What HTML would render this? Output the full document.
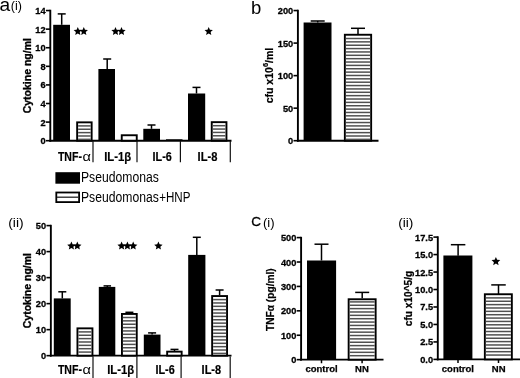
<!DOCTYPE html>
<html><head><meta charset="utf-8"><title>figure</title>
<style>
html,body{margin:0;padding:0;background:#fff;}
body{width:520px;height:378px;overflow:hidden;font-family:"Liberation Sans",sans-serif;}
svg{display:block;will-change:transform;}
svg text{font-family:"Liberation Sans",sans-serif;}
</style></head><body>
<svg width="520" height="378" viewBox="0 0 520 378">
<rect x="0" y="0" width="520" height="378" fill="#fff"/>
<text x="-0.6" y="11.2" font-size="19.2" text-anchor="start" fill="#000" >a</text>
<text x="10.8" y="10.2" font-size="12.5" text-anchor="start" fill="#000" textLength="11.2" lengthAdjust="spacingAndGlyphs" >(i)</text>
<line x1="50.3" y1="9.75" x2="50.3" y2="141.64999999999998" stroke="#000" stroke-width="1.9" stroke-linecap="butt"/>
<line x1="45.9" y1="140.7" x2="50.3" y2="140.7" stroke="#000" stroke-width="1.6" stroke-linecap="butt"/>
<text x="45.599999999999994" y="144.2" font-size="9.8" text-anchor="end" fill="#000" font-weight="bold" textLength="5.15" lengthAdjust="spacingAndGlyphs" stroke="#000" stroke-width="0.3">0</text>
<line x1="45.9" y1="122.10714285714285" x2="50.3" y2="122.10714285714285" stroke="#000" stroke-width="1.6" stroke-linecap="butt"/>
<text x="45.599999999999994" y="125.61" font-size="9.8" text-anchor="end" fill="#000" font-weight="bold" textLength="5.15" lengthAdjust="spacingAndGlyphs" stroke="#000" stroke-width="0.3">2</text>
<line x1="45.9" y1="103.5142857142857" x2="50.3" y2="103.5142857142857" stroke="#000" stroke-width="1.6" stroke-linecap="butt"/>
<text x="45.599999999999994" y="107.01" font-size="9.8" text-anchor="end" fill="#000" font-weight="bold" textLength="5.15" lengthAdjust="spacingAndGlyphs" stroke="#000" stroke-width="0.3">4</text>
<line x1="45.9" y1="84.92142857142858" x2="50.3" y2="84.92142857142858" stroke="#000" stroke-width="1.6" stroke-linecap="butt"/>
<text x="45.599999999999994" y="88.42" font-size="9.8" text-anchor="end" fill="#000" font-weight="bold" textLength="5.15" lengthAdjust="spacingAndGlyphs" stroke="#000" stroke-width="0.3">6</text>
<line x1="45.9" y1="66.32857142857144" x2="50.3" y2="66.32857142857144" stroke="#000" stroke-width="1.6" stroke-linecap="butt"/>
<text x="45.599999999999994" y="69.83" font-size="9.8" text-anchor="end" fill="#000" font-weight="bold" textLength="5.15" lengthAdjust="spacingAndGlyphs" stroke="#000" stroke-width="0.3">8</text>
<line x1="45.9" y1="47.735714285714295" x2="50.3" y2="47.735714285714295" stroke="#000" stroke-width="1.6" stroke-linecap="butt"/>
<text x="45.599999999999994" y="51.24" font-size="9.8" text-anchor="end" fill="#000" font-weight="bold" textLength="10.3" lengthAdjust="spacingAndGlyphs" stroke="#000" stroke-width="0.3">10</text>
<line x1="45.9" y1="29.142857142857167" x2="50.3" y2="29.142857142857167" stroke="#000" stroke-width="1.6" stroke-linecap="butt"/>
<text x="45.599999999999994" y="32.64" font-size="9.8" text-anchor="end" fill="#000" font-weight="bold" textLength="10.3" lengthAdjust="spacingAndGlyphs" stroke="#000" stroke-width="0.3">12</text>
<line x1="45.9" y1="10.550000000000011" x2="50.3" y2="10.550000000000011" stroke="#000" stroke-width="1.6" stroke-linecap="butt"/>
<text x="45.599999999999994" y="14.05" font-size="9.8" text-anchor="end" fill="#000" font-weight="bold" textLength="10.3" lengthAdjust="spacingAndGlyphs" stroke="#000" stroke-width="0.3">14</text>
<line x1="49.349999999999994" y1="140.7" x2="231.5" y2="140.7" stroke="#000" stroke-width="1.9" stroke-linecap="butt"/>
<text x="30.6" y="75.7" font-size="10.5" text-anchor="middle" fill="#000" font-weight="bold" transform="rotate(-90 30.6 75.7)" stroke="#000" stroke-width="0.3">Cytokine ng/ml</text>
<rect x="53.2" y="24.8" width="16.799999999999997" height="115.89999999999999" fill="#000"/>
<line x1="61.7" y1="13.9" x2="61.7" y2="24.8" stroke="#000" stroke-width="1.5" stroke-linecap="butt"/>
<line x1="57.7" y1="13.9" x2="65.7" y2="13.9" stroke="#000" stroke-width="1.5" stroke-linecap="butt"/>
<rect x="77.15" y="122.35000000000001" width="14.499999999999991" height="18.349999999999984" fill="#fff" stroke="#000" stroke-width="1.9"/>
<line x1="78.10000000000001" y1="125.9" x2="90.69999999999999" y2="125.9" stroke="#505050" stroke-width="1.5" stroke-linecap="butt"/>
<line x1="78.10000000000001" y1="129.262" x2="90.69999999999999" y2="129.262" stroke="#505050" stroke-width="1.5" stroke-linecap="butt"/>
<line x1="78.10000000000001" y1="132.624" x2="90.69999999999999" y2="132.624" stroke="#505050" stroke-width="1.5" stroke-linecap="butt"/>
<line x1="78.10000000000001" y1="135.986" x2="90.69999999999999" y2="135.986" stroke="#505050" stroke-width="1.5" stroke-linecap="butt"/>
<line x1="78.10000000000001" y1="139.34799999999998" x2="90.69999999999999" y2="139.34799999999998" stroke="#505050" stroke-width="1.5" stroke-linecap="butt"/>
<rect x="98.4" y="69" width="16.599999999999994" height="71.69999999999999" fill="#000"/>
<line x1="107.2" y1="59" x2="107.2" y2="69" stroke="#000" stroke-width="1.5" stroke-linecap="butt"/>
<line x1="103.2" y1="59" x2="111.2" y2="59" stroke="#000" stroke-width="1.5" stroke-linecap="butt"/>
<rect x="121.75" y="135.25" width="14.999999999999991" height="5.449999999999977" fill="#fff" stroke="#000" stroke-width="1.9"/>
<rect x="143.3" y="128.8" width="16.69999999999999" height="11.899999999999977" fill="#000"/>
<line x1="151.5" y1="125" x2="151.5" y2="128.8" stroke="#000" stroke-width="1.5" stroke-linecap="butt"/>
<line x1="147.5" y1="125" x2="155.5" y2="125" stroke="#000" stroke-width="1.5" stroke-linecap="butt"/>
<line x1="166" y1="139.6" x2="182.5" y2="139.6" stroke="#000" stroke-width="0.8" stroke-linecap="butt"/>
<rect x="188" y="93.5" width="17.19999999999999" height="47.19999999999999" fill="#000"/>
<line x1="196.5" y1="87.4" x2="196.5" y2="93.5" stroke="#000" stroke-width="1.5" stroke-linecap="butt"/>
<line x1="192.5" y1="87.4" x2="200.5" y2="87.4" stroke="#000" stroke-width="1.5" stroke-linecap="butt"/>
<rect x="211.75" y="122.15" width="14.699999999999994" height="18.549999999999986" fill="#fff" stroke="#000" stroke-width="1.9"/>
<line x1="212.70000000000002" y1="125.7" x2="225.5" y2="125.7" stroke="#505050" stroke-width="1.5" stroke-linecap="butt"/>
<line x1="212.70000000000002" y1="129.062" x2="225.5" y2="129.062" stroke="#505050" stroke-width="1.5" stroke-linecap="butt"/>
<line x1="212.70000000000002" y1="132.424" x2="225.5" y2="132.424" stroke="#505050" stroke-width="1.5" stroke-linecap="butt"/>
<line x1="212.70000000000002" y1="135.786" x2="225.5" y2="135.786" stroke="#505050" stroke-width="1.5" stroke-linecap="butt"/>
<line x1="212.70000000000002" y1="139.148" x2="225.5" y2="139.148" stroke="#505050" stroke-width="1.5" stroke-linecap="butt"/>
<polygon points="77.80,27.00 78.99,29.76 81.98,30.04 79.72,32.03 80.39,34.96 77.80,33.42 75.21,34.96 75.88,32.03 73.62,30.04 76.61,29.76" fill="#000"/>
<polygon points="83.80,27.00 84.99,29.76 87.98,30.04 85.72,32.03 86.39,34.96 83.80,33.42 81.21,34.96 81.88,32.03 79.62,30.04 82.61,29.76" fill="#000"/>
<polygon points="115.50,27.00 116.69,29.76 119.68,30.04 117.42,32.03 118.09,34.96 115.50,33.42 112.91,34.96 113.58,32.03 111.32,30.04 114.31,29.76" fill="#000"/>
<polygon points="121.50,27.00 122.69,29.76 125.68,30.04 123.42,32.03 124.09,34.96 121.50,33.42 118.91,34.96 119.58,32.03 117.32,30.04 120.31,29.76" fill="#000"/>
<polygon points="208.70,27.00 209.89,29.76 212.88,30.04 210.62,32.03 211.29,34.96 208.70,33.42 206.11,34.96 206.78,32.03 204.52,30.04 207.51,29.76" fill="#000"/>
<line x1="93" y1="141" x2="93" y2="162.3" stroke="#111" stroke-width="1.2" stroke-linecap="butt"/>
<line x1="137" y1="141" x2="137" y2="162.3" stroke="#111" stroke-width="1.2" stroke-linecap="butt"/>
<line x1="180.4" y1="141" x2="180.4" y2="162.3" stroke="#111" stroke-width="1.2" stroke-linecap="butt"/>
<line x1="230.3" y1="141" x2="230.3" y2="162.3" stroke="#111" stroke-width="1.2" stroke-linecap="butt"/>
<text x="57.9" y="160.7" font-size="13" text-anchor="start" fill="#000" font-weight="bold" textLength="24" lengthAdjust="spacingAndGlyphs" stroke="#000" stroke-width="0.2">TNF-</text>
<text x="82.6" y="160.8" font-size="13" text-anchor="start" fill="#000" textLength="8.4" lengthAdjust="spacingAndGlyphs" >&#945;</text>
<text x="104.2" y="160.7" font-size="13" text-anchor="start" fill="#000" font-weight="bold" textLength="27" lengthAdjust="spacingAndGlyphs" stroke="#000" stroke-width="0.2">IL-1&#946;</text>
<text x="152.6" y="160.7" font-size="13" text-anchor="start" fill="#000" font-weight="bold" textLength="19.3" lengthAdjust="spacingAndGlyphs" stroke="#000" stroke-width="0.2">IL-6</text>
<text x="197.6" y="160.7" font-size="13" text-anchor="start" fill="#000" font-weight="bold" textLength="19.8" lengthAdjust="spacingAndGlyphs" stroke="#000" stroke-width="0.2">IL-8</text>
<rect x="55.4" y="172.2" width="24.6" height="11.5" fill="#000"/>
<rect x="56.3" y="192.5" width="22.8" height="9.6" fill="#fff" stroke="#000" stroke-width="1.8"/>
<line x1="57" y1="197.2" x2="78.5" y2="197.2" stroke="#222" stroke-width="1.3" stroke-linecap="butt"/>
<text x="81.0" y="182.3" font-size="14" text-anchor="start" fill="#000" textLength="77.8" lengthAdjust="spacingAndGlyphs" >Pseudomonas</text>
<text x="81.0" y="201.8" font-size="14" text-anchor="start" fill="#000" textLength="77.8" lengthAdjust="spacingAndGlyphs" >Pseudomonas</text>
<text x="159.2" y="201.8" font-size="14" text-anchor="start" fill="#000" textLength="31.2" lengthAdjust="spacingAndGlyphs" >+HNP</text>
<text x="251" y="13.9" font-size="18.5" text-anchor="start" fill="#000" >b</text>
<line x1="297.9" y1="9.75" x2="297.9" y2="141.64999999999998" stroke="#000" stroke-width="1.9" stroke-linecap="butt"/>
<line x1="293.5" y1="140.7" x2="297.9" y2="140.7" stroke="#000" stroke-width="1.6" stroke-linecap="butt"/>
<text x="293.2" y="144.2" font-size="9.8" text-anchor="end" fill="#000" font-weight="bold" textLength="5.15" lengthAdjust="spacingAndGlyphs" stroke="#000" stroke-width="0.3">0</text>
<line x1="293.5" y1="108.1625" x2="297.9" y2="108.1625" stroke="#000" stroke-width="1.6" stroke-linecap="butt"/>
<text x="293.2" y="111.66" font-size="9.8" text-anchor="end" fill="#000" font-weight="bold" textLength="10.3" lengthAdjust="spacingAndGlyphs" stroke="#000" stroke-width="0.3">50</text>
<line x1="293.5" y1="75.625" x2="297.9" y2="75.625" stroke="#000" stroke-width="1.6" stroke-linecap="butt"/>
<text x="293.2" y="79.12" font-size="9.8" text-anchor="end" fill="#000" font-weight="bold" textLength="15.45" lengthAdjust="spacingAndGlyphs" stroke="#000" stroke-width="0.3">100</text>
<line x1="293.5" y1="43.08749999999999" x2="297.9" y2="43.08749999999999" stroke="#000" stroke-width="1.6" stroke-linecap="butt"/>
<text x="293.2" y="46.59" font-size="9.8" text-anchor="end" fill="#000" font-weight="bold" textLength="15.45" lengthAdjust="spacingAndGlyphs" stroke="#000" stroke-width="0.3">150</text>
<line x1="293.5" y1="10.550000000000011" x2="297.9" y2="10.550000000000011" stroke="#000" stroke-width="1.6" stroke-linecap="butt"/>
<text x="293.2" y="14.05" font-size="9.8" text-anchor="end" fill="#000" font-weight="bold" textLength="15.45" lengthAdjust="spacingAndGlyphs" stroke="#000" stroke-width="0.3">200</text>
<line x1="296.95" y1="140.7" x2="378.5" y2="140.7" stroke="#000" stroke-width="1.9" stroke-linecap="butt"/>
<text transform="translate(273.0 103.3) rotate(-90)" font-size="10.5" font-weight="bold" stroke="#000" stroke-width="0.2">cfu x10<tspan font-size="7.5" dy="-4.9">6</tspan><tspan dy="4.9">/ml</tspan></text>
<rect x="303.6" y="22.5" width="27.899999999999977" height="118.19999999999999" fill="#000"/>
<line x1="317.7" y1="21" x2="317.7" y2="22.5" stroke="#000" stroke-width="1.5" stroke-linecap="butt"/>
<line x1="310.7" y1="21" x2="324.7" y2="21" stroke="#000" stroke-width="1.5" stroke-linecap="butt"/>
<rect x="344.84999999999997" y="34.75" width="26.300000000000047" height="105.94999999999999" fill="#fff" stroke="#000" stroke-width="1.9"/>
<line x1="345.79999999999995" y1="38.5" x2="370.20000000000005" y2="38.5" stroke="#505050" stroke-width="1.5" stroke-linecap="butt"/>
<line x1="345.79999999999995" y1="41.862" x2="370.20000000000005" y2="41.862" stroke="#505050" stroke-width="1.5" stroke-linecap="butt"/>
<line x1="345.79999999999995" y1="45.224000000000004" x2="370.20000000000005" y2="45.224000000000004" stroke="#505050" stroke-width="1.5" stroke-linecap="butt"/>
<line x1="345.79999999999995" y1="48.586000000000006" x2="370.20000000000005" y2="48.586000000000006" stroke="#505050" stroke-width="1.5" stroke-linecap="butt"/>
<line x1="345.79999999999995" y1="51.94800000000001" x2="370.20000000000005" y2="51.94800000000001" stroke="#505050" stroke-width="1.5" stroke-linecap="butt"/>
<line x1="345.79999999999995" y1="55.31000000000001" x2="370.20000000000005" y2="55.31000000000001" stroke="#505050" stroke-width="1.5" stroke-linecap="butt"/>
<line x1="345.79999999999995" y1="58.67200000000001" x2="370.20000000000005" y2="58.67200000000001" stroke="#505050" stroke-width="1.5" stroke-linecap="butt"/>
<line x1="345.79999999999995" y1="62.03400000000001" x2="370.20000000000005" y2="62.03400000000001" stroke="#505050" stroke-width="1.5" stroke-linecap="butt"/>
<line x1="345.79999999999995" y1="65.39600000000002" x2="370.20000000000005" y2="65.39600000000002" stroke="#505050" stroke-width="1.5" stroke-linecap="butt"/>
<line x1="345.79999999999995" y1="68.75800000000001" x2="370.20000000000005" y2="68.75800000000001" stroke="#505050" stroke-width="1.5" stroke-linecap="butt"/>
<line x1="345.79999999999995" y1="72.12" x2="370.20000000000005" y2="72.12" stroke="#505050" stroke-width="1.5" stroke-linecap="butt"/>
<line x1="345.79999999999995" y1="75.482" x2="370.20000000000005" y2="75.482" stroke="#505050" stroke-width="1.5" stroke-linecap="butt"/>
<line x1="345.79999999999995" y1="78.844" x2="370.20000000000005" y2="78.844" stroke="#505050" stroke-width="1.5" stroke-linecap="butt"/>
<line x1="345.79999999999995" y1="82.20599999999999" x2="370.20000000000005" y2="82.20599999999999" stroke="#505050" stroke-width="1.5" stroke-linecap="butt"/>
<line x1="345.79999999999995" y1="85.56799999999998" x2="370.20000000000005" y2="85.56799999999998" stroke="#505050" stroke-width="1.5" stroke-linecap="butt"/>
<line x1="345.79999999999995" y1="88.92999999999998" x2="370.20000000000005" y2="88.92999999999998" stroke="#505050" stroke-width="1.5" stroke-linecap="butt"/>
<line x1="345.79999999999995" y1="92.29199999999997" x2="370.20000000000005" y2="92.29199999999997" stroke="#505050" stroke-width="1.5" stroke-linecap="butt"/>
<line x1="345.79999999999995" y1="95.65399999999997" x2="370.20000000000005" y2="95.65399999999997" stroke="#505050" stroke-width="1.5" stroke-linecap="butt"/>
<line x1="345.79999999999995" y1="99.01599999999996" x2="370.20000000000005" y2="99.01599999999996" stroke="#505050" stroke-width="1.5" stroke-linecap="butt"/>
<line x1="345.79999999999995" y1="102.37799999999996" x2="370.20000000000005" y2="102.37799999999996" stroke="#505050" stroke-width="1.5" stroke-linecap="butt"/>
<line x1="345.79999999999995" y1="105.73999999999995" x2="370.20000000000005" y2="105.73999999999995" stroke="#505050" stroke-width="1.5" stroke-linecap="butt"/>
<line x1="345.79999999999995" y1="109.10199999999995" x2="370.20000000000005" y2="109.10199999999995" stroke="#505050" stroke-width="1.5" stroke-linecap="butt"/>
<line x1="345.79999999999995" y1="112.46399999999994" x2="370.20000000000005" y2="112.46399999999994" stroke="#505050" stroke-width="1.5" stroke-linecap="butt"/>
<line x1="345.79999999999995" y1="115.82599999999994" x2="370.20000000000005" y2="115.82599999999994" stroke="#505050" stroke-width="1.5" stroke-linecap="butt"/>
<line x1="345.79999999999995" y1="119.18799999999993" x2="370.20000000000005" y2="119.18799999999993" stroke="#505050" stroke-width="1.5" stroke-linecap="butt"/>
<line x1="345.79999999999995" y1="122.54999999999993" x2="370.20000000000005" y2="122.54999999999993" stroke="#505050" stroke-width="1.5" stroke-linecap="butt"/>
<line x1="345.79999999999995" y1="125.91199999999992" x2="370.20000000000005" y2="125.91199999999992" stroke="#505050" stroke-width="1.5" stroke-linecap="butt"/>
<line x1="345.79999999999995" y1="129.27399999999992" x2="370.20000000000005" y2="129.27399999999992" stroke="#505050" stroke-width="1.5" stroke-linecap="butt"/>
<line x1="345.79999999999995" y1="132.6359999999999" x2="370.20000000000005" y2="132.6359999999999" stroke="#505050" stroke-width="1.5" stroke-linecap="butt"/>
<line x1="345.79999999999995" y1="135.9979999999999" x2="370.20000000000005" y2="135.9979999999999" stroke="#505050" stroke-width="1.5" stroke-linecap="butt"/>
<line x1="345.79999999999995" y1="139.3599999999999" x2="370.20000000000005" y2="139.3599999999999" stroke="#505050" stroke-width="1.5" stroke-linecap="butt"/>
<line x1="358.0" y1="28.3" x2="358.0" y2="34" stroke="#000" stroke-width="1.5" stroke-linecap="butt"/>
<line x1="351.0" y1="28.3" x2="365.0" y2="28.3" stroke="#000" stroke-width="1.5" stroke-linecap="butt"/>
<text x="8.2" y="226.5" font-size="13.3" text-anchor="start" fill="#000" textLength="15.4" lengthAdjust="spacingAndGlyphs" >(ii)</text>
<line x1="50.85" y1="224.79999999999998" x2="50.85" y2="356.59999999999997" stroke="#000" stroke-width="1.9" stroke-linecap="butt"/>
<line x1="46.45" y1="355.65" x2="50.85" y2="355.65" stroke="#000" stroke-width="1.6" stroke-linecap="butt"/>
<text x="46.15" y="359.15" font-size="9.8" text-anchor="end" fill="#000" font-weight="bold" textLength="5.15" lengthAdjust="spacingAndGlyphs" stroke="#000" stroke-width="0.3">0</text>
<line x1="46.45" y1="329.64" x2="50.85" y2="329.64" stroke="#000" stroke-width="1.6" stroke-linecap="butt"/>
<text x="46.15" y="333.14" font-size="9.8" text-anchor="end" fill="#000" font-weight="bold" textLength="10.3" lengthAdjust="spacingAndGlyphs" stroke="#000" stroke-width="0.3">10</text>
<line x1="46.45" y1="303.63" x2="50.85" y2="303.63" stroke="#000" stroke-width="1.6" stroke-linecap="butt"/>
<text x="46.15" y="307.13" font-size="9.8" text-anchor="end" fill="#000" font-weight="bold" textLength="10.3" lengthAdjust="spacingAndGlyphs" stroke="#000" stroke-width="0.3">20</text>
<line x1="46.45" y1="277.62" x2="50.85" y2="277.62" stroke="#000" stroke-width="1.6" stroke-linecap="butt"/>
<text x="46.15" y="281.12" font-size="9.8" text-anchor="end" fill="#000" font-weight="bold" textLength="10.3" lengthAdjust="spacingAndGlyphs" stroke="#000" stroke-width="0.3">30</text>
<line x1="46.45" y1="251.61" x2="50.85" y2="251.61" stroke="#000" stroke-width="1.6" stroke-linecap="butt"/>
<text x="46.15" y="255.11" font-size="9.8" text-anchor="end" fill="#000" font-weight="bold" textLength="10.3" lengthAdjust="spacingAndGlyphs" stroke="#000" stroke-width="0.3">40</text>
<line x1="46.45" y1="225.6" x2="50.85" y2="225.6" stroke="#000" stroke-width="1.6" stroke-linecap="butt"/>
<text x="46.15" y="229.1" font-size="9.8" text-anchor="end" fill="#000" font-weight="bold" textLength="10.3" lengthAdjust="spacingAndGlyphs" stroke="#000" stroke-width="0.3">50</text>
<line x1="49.9" y1="355.65" x2="231.5" y2="355.65" stroke="#000" stroke-width="1.9" stroke-linecap="butt"/>
<text x="30.8" y="290.6" font-size="10.5" text-anchor="middle" fill="#000" font-weight="bold" transform="rotate(-90 30.8 290.6)" stroke="#000" stroke-width="0.3">Cytokine ng/ml</text>
<rect x="53.8" y="298.4" width="16.900000000000006" height="57.25" fill="#000"/>
<line x1="62.3" y1="291.8" x2="62.3" y2="298.4" stroke="#000" stroke-width="1.5" stroke-linecap="butt"/>
<line x1="58.3" y1="291.8" x2="66.3" y2="291.8" stroke="#000" stroke-width="1.5" stroke-linecap="butt"/>
<rect x="77.45" y="328.34999999999997" width="15.000000000000005" height="27.3" fill="#fff" stroke="#000" stroke-width="1.9"/>
<line x1="78.4" y1="331.9" x2="91.5" y2="331.9" stroke="#505050" stroke-width="1.5" stroke-linecap="butt"/>
<line x1="78.4" y1="335.262" x2="91.5" y2="335.262" stroke="#505050" stroke-width="1.5" stroke-linecap="butt"/>
<line x1="78.4" y1="338.624" x2="91.5" y2="338.624" stroke="#505050" stroke-width="1.5" stroke-linecap="butt"/>
<line x1="78.4" y1="341.98600000000005" x2="91.5" y2="341.98600000000005" stroke="#505050" stroke-width="1.5" stroke-linecap="butt"/>
<line x1="78.4" y1="345.34800000000007" x2="91.5" y2="345.34800000000007" stroke="#505050" stroke-width="1.5" stroke-linecap="butt"/>
<line x1="78.4" y1="348.7100000000001" x2="91.5" y2="348.7100000000001" stroke="#505050" stroke-width="1.5" stroke-linecap="butt"/>
<line x1="78.4" y1="352.0720000000001" x2="91.5" y2="352.0720000000001" stroke="#505050" stroke-width="1.5" stroke-linecap="butt"/>
<rect x="98.8" y="286.9" width="16.5" height="68.75" fill="#000"/>
<line x1="107.3" y1="285.9" x2="107.3" y2="287" stroke="#000" stroke-width="1.5" stroke-linecap="butt"/>
<line x1="103.55" y1="285.9" x2="111.05" y2="285.9" stroke="#000" stroke-width="1.5" stroke-linecap="butt"/>
<rect x="121.95" y="313.95" width="14.799999999999988" height="41.699999999999974" fill="#fff" stroke="#000" stroke-width="1.9"/>
<line x1="122.9" y1="317.5" x2="135.79999999999998" y2="317.5" stroke="#505050" stroke-width="1.5" stroke-linecap="butt"/>
<line x1="122.9" y1="320.862" x2="135.79999999999998" y2="320.862" stroke="#505050" stroke-width="1.5" stroke-linecap="butt"/>
<line x1="122.9" y1="324.22400000000005" x2="135.79999999999998" y2="324.22400000000005" stroke="#505050" stroke-width="1.5" stroke-linecap="butt"/>
<line x1="122.9" y1="327.58600000000007" x2="135.79999999999998" y2="327.58600000000007" stroke="#505050" stroke-width="1.5" stroke-linecap="butt"/>
<line x1="122.9" y1="330.9480000000001" x2="135.79999999999998" y2="330.9480000000001" stroke="#505050" stroke-width="1.5" stroke-linecap="butt"/>
<line x1="122.9" y1="334.3100000000001" x2="135.79999999999998" y2="334.3100000000001" stroke="#505050" stroke-width="1.5" stroke-linecap="butt"/>
<line x1="122.9" y1="337.67200000000014" x2="135.79999999999998" y2="337.67200000000014" stroke="#505050" stroke-width="1.5" stroke-linecap="butt"/>
<line x1="122.9" y1="341.03400000000016" x2="135.79999999999998" y2="341.03400000000016" stroke="#505050" stroke-width="1.5" stroke-linecap="butt"/>
<line x1="122.9" y1="344.3960000000002" x2="135.79999999999998" y2="344.3960000000002" stroke="#505050" stroke-width="1.5" stroke-linecap="butt"/>
<line x1="122.9" y1="347.7580000000002" x2="135.79999999999998" y2="347.7580000000002" stroke="#505050" stroke-width="1.5" stroke-linecap="butt"/>
<line x1="122.9" y1="351.12000000000023" x2="135.79999999999998" y2="351.12000000000023" stroke="#505050" stroke-width="1.5" stroke-linecap="butt"/>
<line x1="129.4" y1="312.3" x2="129.4" y2="313" stroke="#000" stroke-width="1.5" stroke-linecap="butt"/>
<line x1="125.4" y1="312.3" x2="133.4" y2="312.3" stroke="#000" stroke-width="1.5" stroke-linecap="butt"/>
<rect x="143.8" y="334.6" width="16.69999999999999" height="21.049999999999955" fill="#000"/>
<line x1="152.1" y1="332.9" x2="152.1" y2="334.6" stroke="#000" stroke-width="1.5" stroke-linecap="butt"/>
<line x1="148.1" y1="332.9" x2="156.1" y2="332.9" stroke="#000" stroke-width="1.5" stroke-linecap="butt"/>
<rect x="167.14999999999998" y="351.65" width="14.500000000000005" height="3.9999999999999885" fill="#fff" stroke="#000" stroke-width="1.9"/>
<line x1="174.5" y1="349.4" x2="174.5" y2="351" stroke="#000" stroke-width="1.5" stroke-linecap="butt"/>
<line x1="170.5" y1="349.4" x2="178.5" y2="349.4" stroke="#000" stroke-width="1.5" stroke-linecap="butt"/>
<rect x="188.2" y="254.9" width="17.200000000000017" height="100.74999999999997" fill="#000"/>
<line x1="196.8" y1="237.3" x2="196.8" y2="255" stroke="#000" stroke-width="1.5" stroke-linecap="butt"/>
<line x1="192.8" y1="237.3" x2="200.8" y2="237.3" stroke="#000" stroke-width="1.5" stroke-linecap="butt"/>
<rect x="212.14999999999998" y="296.05" width="14.900000000000011" height="59.59999999999995" fill="#fff" stroke="#000" stroke-width="1.9"/>
<line x1="213.1" y1="299.6" x2="226.1" y2="299.6" stroke="#505050" stroke-width="1.5" stroke-linecap="butt"/>
<line x1="213.1" y1="302.96200000000005" x2="226.1" y2="302.96200000000005" stroke="#505050" stroke-width="1.5" stroke-linecap="butt"/>
<line x1="213.1" y1="306.32400000000007" x2="226.1" y2="306.32400000000007" stroke="#505050" stroke-width="1.5" stroke-linecap="butt"/>
<line x1="213.1" y1="309.6860000000001" x2="226.1" y2="309.6860000000001" stroke="#505050" stroke-width="1.5" stroke-linecap="butt"/>
<line x1="213.1" y1="313.0480000000001" x2="226.1" y2="313.0480000000001" stroke="#505050" stroke-width="1.5" stroke-linecap="butt"/>
<line x1="213.1" y1="316.41000000000014" x2="226.1" y2="316.41000000000014" stroke="#505050" stroke-width="1.5" stroke-linecap="butt"/>
<line x1="213.1" y1="319.77200000000016" x2="226.1" y2="319.77200000000016" stroke="#505050" stroke-width="1.5" stroke-linecap="butt"/>
<line x1="213.1" y1="323.1340000000002" x2="226.1" y2="323.1340000000002" stroke="#505050" stroke-width="1.5" stroke-linecap="butt"/>
<line x1="213.1" y1="326.4960000000002" x2="226.1" y2="326.4960000000002" stroke="#505050" stroke-width="1.5" stroke-linecap="butt"/>
<line x1="213.1" y1="329.85800000000023" x2="226.1" y2="329.85800000000023" stroke="#505050" stroke-width="1.5" stroke-linecap="butt"/>
<line x1="213.1" y1="333.22000000000025" x2="226.1" y2="333.22000000000025" stroke="#505050" stroke-width="1.5" stroke-linecap="butt"/>
<line x1="213.1" y1="336.5820000000003" x2="226.1" y2="336.5820000000003" stroke="#505050" stroke-width="1.5" stroke-linecap="butt"/>
<line x1="213.1" y1="339.9440000000003" x2="226.1" y2="339.9440000000003" stroke="#505050" stroke-width="1.5" stroke-linecap="butt"/>
<line x1="213.1" y1="343.3060000000003" x2="226.1" y2="343.3060000000003" stroke="#505050" stroke-width="1.5" stroke-linecap="butt"/>
<line x1="213.1" y1="346.66800000000035" x2="226.1" y2="346.66800000000035" stroke="#505050" stroke-width="1.5" stroke-linecap="butt"/>
<line x1="213.1" y1="350.03000000000037" x2="226.1" y2="350.03000000000037" stroke="#505050" stroke-width="1.5" stroke-linecap="butt"/>
<line x1="213.1" y1="353.3920000000004" x2="226.1" y2="353.3920000000004" stroke="#505050" stroke-width="1.5" stroke-linecap="butt"/>
<line x1="219.6" y1="290" x2="219.6" y2="295.1" stroke="#000" stroke-width="1.5" stroke-linecap="butt"/>
<line x1="215.6" y1="290" x2="223.6" y2="290" stroke="#000" stroke-width="1.5" stroke-linecap="butt"/>
<polygon points="71.40,241.60 72.59,244.36 75.58,244.64 73.32,246.63 73.99,249.56 71.40,248.02 68.81,249.56 69.48,246.63 67.22,244.64 70.21,244.36" fill="#000"/>
<polygon points="77.30,241.60 78.49,244.36 81.48,244.64 79.22,246.63 79.89,249.56 77.30,248.02 74.71,249.56 75.38,246.63 73.12,244.64 76.11,244.36" fill="#000"/>
<polygon points="121.60,241.60 122.79,244.36 125.78,244.64 123.52,246.63 124.19,249.56 121.60,248.02 119.01,249.56 119.68,246.63 117.42,244.64 120.41,244.36" fill="#000"/>
<polygon points="127.40,241.60 128.59,244.36 131.58,244.64 129.32,246.63 129.99,249.56 127.40,248.02 124.81,249.56 125.48,246.63 123.22,244.64 126.21,244.36" fill="#000"/>
<polygon points="133.20,241.60 134.39,244.36 137.38,244.64 135.12,246.63 135.79,249.56 133.20,248.02 130.61,249.56 131.28,246.63 129.02,244.64 132.01,244.36" fill="#000"/>
<polygon points="158.40,241.60 159.59,244.36 162.58,244.64 160.32,246.63 160.99,249.56 158.40,248.02 155.81,249.56 156.48,246.63 154.22,244.64 157.21,244.36" fill="#000"/>
<line x1="93" y1="356.5" x2="93" y2="378" stroke="#111" stroke-width="1.2" stroke-linecap="butt"/>
<line x1="136.9" y1="356.5" x2="136.9" y2="378" stroke="#111" stroke-width="1.2" stroke-linecap="butt"/>
<line x1="181.1" y1="356.5" x2="181.1" y2="378" stroke="#111" stroke-width="1.2" stroke-linecap="butt"/>
<line x1="230.2" y1="356.5" x2="230.2" y2="378" stroke="#111" stroke-width="1.2" stroke-linecap="butt"/>
<text x="57.9" y="373.6" font-size="13" text-anchor="start" fill="#000" font-weight="bold" textLength="24" lengthAdjust="spacingAndGlyphs" stroke="#000" stroke-width="0.2">TNF-</text>
<text x="82.6" y="373.7" font-size="13" text-anchor="start" fill="#000" textLength="8.4" lengthAdjust="spacingAndGlyphs" >&#945;</text>
<text x="107.2" y="373.6" font-size="13" text-anchor="start" fill="#000" font-weight="bold" textLength="27" lengthAdjust="spacingAndGlyphs" stroke="#000" stroke-width="0.2">IL-1&#946;</text>
<text x="155.4" y="373.6" font-size="13" text-anchor="start" fill="#000" font-weight="bold" textLength="19.3" lengthAdjust="spacingAndGlyphs" stroke="#000" stroke-width="0.2">IL-6</text>
<text x="201.6" y="373.6" font-size="13" text-anchor="start" fill="#000" font-weight="bold" textLength="19.5" lengthAdjust="spacingAndGlyphs" stroke="#000" stroke-width="0.2">IL-8</text>
<text x="251.2" y="225.7" font-size="13.5" text-anchor="start" fill="#000" stroke="#000" stroke-width="0.3">C</text>
<text x="262.9" y="226.5" font-size="13.3" text-anchor="start" fill="#000" textLength="11.6" lengthAdjust="spacingAndGlyphs" >(i)</text>
<line x1="301.1" y1="236.79999999999998" x2="301.1" y2="360.59999999999997" stroke="#000" stroke-width="1.9" stroke-linecap="butt"/>
<line x1="296.70000000000005" y1="359.65" x2="301.1" y2="359.65" stroke="#000" stroke-width="1.6" stroke-linecap="butt"/>
<text x="296.40000000000003" y="363.15" font-size="9.8" text-anchor="end" fill="#000" font-weight="bold" textLength="5.15" lengthAdjust="spacingAndGlyphs" stroke="#000" stroke-width="0.3">0</text>
<line x1="296.70000000000005" y1="335.24" x2="301.1" y2="335.24" stroke="#000" stroke-width="1.6" stroke-linecap="butt"/>
<text x="296.40000000000003" y="338.74" font-size="9.8" text-anchor="end" fill="#000" font-weight="bold" textLength="15.45" lengthAdjust="spacingAndGlyphs" stroke="#000" stroke-width="0.3">100</text>
<line x1="296.70000000000005" y1="310.83" x2="301.1" y2="310.83" stroke="#000" stroke-width="1.6" stroke-linecap="butt"/>
<text x="296.40000000000003" y="314.33" font-size="9.8" text-anchor="end" fill="#000" font-weight="bold" textLength="15.45" lengthAdjust="spacingAndGlyphs" stroke="#000" stroke-width="0.3">200</text>
<line x1="296.70000000000005" y1="286.41999999999996" x2="301.1" y2="286.41999999999996" stroke="#000" stroke-width="1.6" stroke-linecap="butt"/>
<text x="296.40000000000003" y="289.92" font-size="9.8" text-anchor="end" fill="#000" font-weight="bold" textLength="15.45" lengthAdjust="spacingAndGlyphs" stroke="#000" stroke-width="0.3">300</text>
<line x1="296.70000000000005" y1="262.01" x2="301.1" y2="262.01" stroke="#000" stroke-width="1.6" stroke-linecap="butt"/>
<text x="296.40000000000003" y="265.51" font-size="9.8" text-anchor="end" fill="#000" font-weight="bold" textLength="15.45" lengthAdjust="spacingAndGlyphs" stroke="#000" stroke-width="0.3">400</text>
<line x1="296.70000000000005" y1="237.6" x2="301.1" y2="237.6" stroke="#000" stroke-width="1.6" stroke-linecap="butt"/>
<text x="296.40000000000003" y="241.1" font-size="9.8" text-anchor="end" fill="#000" font-weight="bold" textLength="15.45" lengthAdjust="spacingAndGlyphs" stroke="#000" stroke-width="0.3">500</text>
<line x1="300.15000000000003" y1="359.65" x2="383.5" y2="359.65" stroke="#000" stroke-width="1.9" stroke-linecap="butt"/>
<text x="274.0" y="299.6" font-size="10" text-anchor="middle" fill="#000" font-weight="bold" textLength="62.7" lengthAdjust="spacingAndGlyphs" transform="rotate(-90 274.0 299.6)" stroke="#000" stroke-width="0.2">TNF&#945; (pg/ml)</text>
<rect x="307" y="260.5" width="29.100000000000023" height="99.14999999999998" fill="#000"/>
<line x1="321.5" y1="244.2" x2="321.5" y2="260.5" stroke="#000" stroke-width="1.5" stroke-linecap="butt"/>
<line x1="314.5" y1="244.2" x2="328.5" y2="244.2" stroke="#000" stroke-width="1.5" stroke-linecap="butt"/>
<rect x="348.65" y="299.25" width="27.000000000000036" height="60.39999999999996" fill="#fff" stroke="#000" stroke-width="1.9"/>
<line x1="349.59999999999997" y1="301.90000000000003" x2="374.70000000000005" y2="301.90000000000003" stroke="#505050" stroke-width="1.5" stroke-linecap="butt"/>
<line x1="349.59999999999997" y1="305.26200000000006" x2="374.70000000000005" y2="305.26200000000006" stroke="#505050" stroke-width="1.5" stroke-linecap="butt"/>
<line x1="349.59999999999997" y1="308.6240000000001" x2="374.70000000000005" y2="308.6240000000001" stroke="#505050" stroke-width="1.5" stroke-linecap="butt"/>
<line x1="349.59999999999997" y1="311.9860000000001" x2="374.70000000000005" y2="311.9860000000001" stroke="#505050" stroke-width="1.5" stroke-linecap="butt"/>
<line x1="349.59999999999997" y1="315.3480000000001" x2="374.70000000000005" y2="315.3480000000001" stroke="#505050" stroke-width="1.5" stroke-linecap="butt"/>
<line x1="349.59999999999997" y1="318.71000000000015" x2="374.70000000000005" y2="318.71000000000015" stroke="#505050" stroke-width="1.5" stroke-linecap="butt"/>
<line x1="349.59999999999997" y1="322.0720000000002" x2="374.70000000000005" y2="322.0720000000002" stroke="#505050" stroke-width="1.5" stroke-linecap="butt"/>
<line x1="349.59999999999997" y1="325.4340000000002" x2="374.70000000000005" y2="325.4340000000002" stroke="#505050" stroke-width="1.5" stroke-linecap="butt"/>
<line x1="349.59999999999997" y1="328.7960000000002" x2="374.70000000000005" y2="328.7960000000002" stroke="#505050" stroke-width="1.5" stroke-linecap="butt"/>
<line x1="349.59999999999997" y1="332.15800000000024" x2="374.70000000000005" y2="332.15800000000024" stroke="#505050" stroke-width="1.5" stroke-linecap="butt"/>
<line x1="349.59999999999997" y1="335.52000000000027" x2="374.70000000000005" y2="335.52000000000027" stroke="#505050" stroke-width="1.5" stroke-linecap="butt"/>
<line x1="349.59999999999997" y1="338.8820000000003" x2="374.70000000000005" y2="338.8820000000003" stroke="#505050" stroke-width="1.5" stroke-linecap="butt"/>
<line x1="349.59999999999997" y1="342.2440000000003" x2="374.70000000000005" y2="342.2440000000003" stroke="#505050" stroke-width="1.5" stroke-linecap="butt"/>
<line x1="349.59999999999997" y1="345.60600000000034" x2="374.70000000000005" y2="345.60600000000034" stroke="#505050" stroke-width="1.5" stroke-linecap="butt"/>
<line x1="349.59999999999997" y1="348.96800000000036" x2="374.70000000000005" y2="348.96800000000036" stroke="#505050" stroke-width="1.5" stroke-linecap="butt"/>
<line x1="349.59999999999997" y1="352.3300000000004" x2="374.70000000000005" y2="352.3300000000004" stroke="#505050" stroke-width="1.5" stroke-linecap="butt"/>
<line x1="349.59999999999997" y1="355.6920000000004" x2="374.70000000000005" y2="355.6920000000004" stroke="#505050" stroke-width="1.5" stroke-linecap="butt"/>
<line x1="362.2" y1="292.4" x2="362.2" y2="298.3" stroke="#000" stroke-width="1.5" stroke-linecap="butt"/>
<line x1="355.2" y1="292.4" x2="369.2" y2="292.4" stroke="#000" stroke-width="1.5" stroke-linecap="butt"/>
<line x1="321.5" y1="359.65" x2="321.5" y2="363.25" stroke="#000" stroke-width="1.5" stroke-linecap="butt"/>
<line x1="362.1" y1="359.65" x2="362.1" y2="363.25" stroke="#000" stroke-width="1.5" stroke-linecap="butt"/>
<text x="321.6" y="371.6" font-size="9.5" text-anchor="middle" fill="#000" font-weight="bold" stroke="#000" stroke-width="0.25">control</text>
<text x="361.9" y="371.6" font-size="9.5" text-anchor="middle" fill="#000" font-weight="bold" stroke="#000" stroke-width="0.25">NN</text>
<text x="398.2" y="226.5" font-size="13.3" text-anchor="start" fill="#000" textLength="15.2" lengthAdjust="spacingAndGlyphs" >(ii)</text>
<line x1="437.8" y1="236.29999999999998" x2="437.8" y2="360.34999999999997" stroke="#000" stroke-width="1.9" stroke-linecap="butt"/>
<line x1="433.40000000000003" y1="359.4" x2="437.8" y2="359.4" stroke="#000" stroke-width="1.6" stroke-linecap="butt"/>
<text x="433.1" y="362.9" font-size="9.8" text-anchor="end" fill="#000" font-weight="bold" textLength="12.87" lengthAdjust="spacingAndGlyphs" stroke="#000" stroke-width="0.3">0.0</text>
<line x1="433.40000000000003" y1="341.9285714285714" x2="437.8" y2="341.9285714285714" stroke="#000" stroke-width="1.6" stroke-linecap="butt"/>
<text x="433.1" y="345.43" font-size="9.8" text-anchor="end" fill="#000" font-weight="bold" textLength="12.87" lengthAdjust="spacingAndGlyphs" stroke="#000" stroke-width="0.3">2.5</text>
<line x1="433.40000000000003" y1="324.45714285714286" x2="437.8" y2="324.45714285714286" stroke="#000" stroke-width="1.6" stroke-linecap="butt"/>
<text x="433.1" y="327.96" font-size="9.8" text-anchor="end" fill="#000" font-weight="bold" textLength="12.87" lengthAdjust="spacingAndGlyphs" stroke="#000" stroke-width="0.3">5.0</text>
<line x1="433.40000000000003" y1="306.98571428571427" x2="437.8" y2="306.98571428571427" stroke="#000" stroke-width="1.6" stroke-linecap="butt"/>
<text x="433.1" y="310.49" font-size="9.8" text-anchor="end" fill="#000" font-weight="bold" textLength="12.87" lengthAdjust="spacingAndGlyphs" stroke="#000" stroke-width="0.3">7.5</text>
<line x1="433.40000000000003" y1="289.51428571428573" x2="437.8" y2="289.51428571428573" stroke="#000" stroke-width="1.6" stroke-linecap="butt"/>
<text x="433.1" y="293.01" font-size="9.8" text-anchor="end" fill="#000" font-weight="bold" textLength="18.02" lengthAdjust="spacingAndGlyphs" stroke="#000" stroke-width="0.3">10.0</text>
<line x1="433.40000000000003" y1="272.04285714285714" x2="437.8" y2="272.04285714285714" stroke="#000" stroke-width="1.6" stroke-linecap="butt"/>
<text x="433.1" y="275.54" font-size="9.8" text-anchor="end" fill="#000" font-weight="bold" textLength="18.02" lengthAdjust="spacingAndGlyphs" stroke="#000" stroke-width="0.3">12.5</text>
<line x1="433.40000000000003" y1="254.57142857142856" x2="437.8" y2="254.57142857142856" stroke="#000" stroke-width="1.6" stroke-linecap="butt"/>
<text x="433.1" y="258.07" font-size="9.8" text-anchor="end" fill="#000" font-weight="bold" textLength="18.02" lengthAdjust="spacingAndGlyphs" stroke="#000" stroke-width="0.3">15.0</text>
<line x1="433.40000000000003" y1="237.1" x2="437.8" y2="237.1" stroke="#000" stroke-width="1.6" stroke-linecap="butt"/>
<text x="433.1" y="240.6" font-size="9.8" text-anchor="end" fill="#000" font-weight="bold" textLength="18.02" lengthAdjust="spacingAndGlyphs" stroke="#000" stroke-width="0.3">17.5</text>
<line x1="436.85" y1="359.4" x2="520" y2="359.4" stroke="#000" stroke-width="1.9" stroke-linecap="butt"/>
<text x="411.9" y="298.5" font-size="10.1" text-anchor="middle" fill="#000" font-weight="bold" transform="rotate(-90 411.9 298.5)" stroke="#000" stroke-width="0.25">cfu x10^5/g</text>
<rect x="443.4" y="255.5" width="29.0" height="103.89999999999998" fill="#000"/>
<line x1="458.1" y1="244.7" x2="458.1" y2="255.8" stroke="#000" stroke-width="1.5" stroke-linecap="butt"/>
<line x1="450.85" y1="244.7" x2="465.35" y2="244.7" stroke="#000" stroke-width="1.5" stroke-linecap="butt"/>
<rect x="484.84999999999997" y="294.25" width="26.99999999999998" height="65.14999999999996" fill="#fff" stroke="#000" stroke-width="1.9"/>
<line x1="485.79999999999995" y1="297.90000000000003" x2="510.9" y2="297.90000000000003" stroke="#505050" stroke-width="1.5" stroke-linecap="butt"/>
<line x1="485.79999999999995" y1="301.26200000000006" x2="510.9" y2="301.26200000000006" stroke="#505050" stroke-width="1.5" stroke-linecap="butt"/>
<line x1="485.79999999999995" y1="304.6240000000001" x2="510.9" y2="304.6240000000001" stroke="#505050" stroke-width="1.5" stroke-linecap="butt"/>
<line x1="485.79999999999995" y1="307.9860000000001" x2="510.9" y2="307.9860000000001" stroke="#505050" stroke-width="1.5" stroke-linecap="butt"/>
<line x1="485.79999999999995" y1="311.3480000000001" x2="510.9" y2="311.3480000000001" stroke="#505050" stroke-width="1.5" stroke-linecap="butt"/>
<line x1="485.79999999999995" y1="314.71000000000015" x2="510.9" y2="314.71000000000015" stroke="#505050" stroke-width="1.5" stroke-linecap="butt"/>
<line x1="485.79999999999995" y1="318.0720000000002" x2="510.9" y2="318.0720000000002" stroke="#505050" stroke-width="1.5" stroke-linecap="butt"/>
<line x1="485.79999999999995" y1="321.4340000000002" x2="510.9" y2="321.4340000000002" stroke="#505050" stroke-width="1.5" stroke-linecap="butt"/>
<line x1="485.79999999999995" y1="324.7960000000002" x2="510.9" y2="324.7960000000002" stroke="#505050" stroke-width="1.5" stroke-linecap="butt"/>
<line x1="485.79999999999995" y1="328.15800000000024" x2="510.9" y2="328.15800000000024" stroke="#505050" stroke-width="1.5" stroke-linecap="butt"/>
<line x1="485.79999999999995" y1="331.52000000000027" x2="510.9" y2="331.52000000000027" stroke="#505050" stroke-width="1.5" stroke-linecap="butt"/>
<line x1="485.79999999999995" y1="334.8820000000003" x2="510.9" y2="334.8820000000003" stroke="#505050" stroke-width="1.5" stroke-linecap="butt"/>
<line x1="485.79999999999995" y1="338.2440000000003" x2="510.9" y2="338.2440000000003" stroke="#505050" stroke-width="1.5" stroke-linecap="butt"/>
<line x1="485.79999999999995" y1="341.60600000000034" x2="510.9" y2="341.60600000000034" stroke="#505050" stroke-width="1.5" stroke-linecap="butt"/>
<line x1="485.79999999999995" y1="344.96800000000036" x2="510.9" y2="344.96800000000036" stroke="#505050" stroke-width="1.5" stroke-linecap="butt"/>
<line x1="485.79999999999995" y1="348.3300000000004" x2="510.9" y2="348.3300000000004" stroke="#505050" stroke-width="1.5" stroke-linecap="butt"/>
<line x1="485.79999999999995" y1="351.6920000000004" x2="510.9" y2="351.6920000000004" stroke="#505050" stroke-width="1.5" stroke-linecap="butt"/>
<line x1="485.79999999999995" y1="355.0540000000004" x2="510.9" y2="355.0540000000004" stroke="#505050" stroke-width="1.5" stroke-linecap="butt"/>
<line x1="498.5" y1="284.9" x2="498.5" y2="294.3" stroke="#000" stroke-width="1.5" stroke-linecap="butt"/>
<line x1="491.25" y1="284.9" x2="505.75" y2="284.9" stroke="#000" stroke-width="1.5" stroke-linecap="butt"/>
<polygon points="495.90,256.90 497.14,259.79 500.27,260.08 497.91,262.15 498.60,265.22 495.90,263.62 493.20,265.22 493.89,262.15 491.53,260.08 494.66,259.79" fill="#000"/>
<line x1="458" y1="359.4" x2="458" y2="363.0" stroke="#000" stroke-width="1.5" stroke-linecap="butt"/>
<line x1="498.5" y1="359.4" x2="498.5" y2="363.0" stroke="#000" stroke-width="1.5" stroke-linecap="butt"/>
<text x="457.9" y="371.6" font-size="9.5" text-anchor="middle" fill="#000" font-weight="bold" stroke="#000" stroke-width="0.25">control</text>
<text x="498.7" y="371.6" font-size="9.5" text-anchor="middle" fill="#000" font-weight="bold" stroke="#000" stroke-width="0.25">NN</text>
</svg>
</body></html>
